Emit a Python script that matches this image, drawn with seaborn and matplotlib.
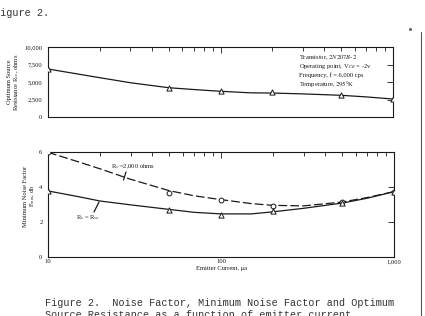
import matplotlib
matplotlib.use("Agg")
import matplotlib.pyplot as plt
import seaborn as sns
import pandas as pd
from matplotlib.ticker import FixedLocator, LogLocator, NullFormatter

# ---- data ----
current_pts = [10, 50, 100, 200, 500, 1000]
rso_pts = [6870, 4210, 3780, 3550, 3130, 2600]
rso_curve_x = [10, 20, 30, 50, 70, 100, 150, 200, 300, 500, 700, 1000]
rso_curve_y = [6870, 5630, 4920, 4210, 3950, 3700, 3480, 3450, 3330, 3130, 2900, 2600]

f2000_pts = [6.0, 3.64, 3.26, 2.91, 3.16, 3.74]
fso_pts = [3.78, 2.68, 2.38, 2.65, 3.07, 3.74]
curve_x = [10, 15, 20, 30, 50, 70, 100, 150, 200, 300, 500, 700, 1000]
f2000_curve = [6.0, 5.45, 5.05, 4.45, 3.8, 3.5, 3.28, 3.05, 2.95, 2.92, 3.14, 3.4, 3.74]
fso_curve = [3.78, 3.45, 3.2, 2.98, 2.72, 2.55, 2.46, 2.46, 2.58, 2.78, 3.08, 3.36, 3.74]

rso_yticks = [0, 2500, 5000, 7500, 10000]
rso_yticklabels = ["0", "2,500", "5,000", "7,500", "10,000"]
f_yticks = [0, 2, 4, 6]
x_ticklabels = ["10", "100", "1,000"]

sns.set_style("white")
plt.rcParams['font.family'] = ['Liberation Serif', 'DejaVu Serif']
plt.rcParams['mathtext.fontset'] = 'stix'
ink = "#1a1a1a"
fs = 4.7

fig = plt.figure(figsize=(4.25, 3.16), dpi=100)
W, H = 425, 316

def ax_rect(l, t, r, b):
    return [l / W, 1 - b / H, (r - l) / W, (b - t) / H]

ax1 = fig.add_axes(ax_rect(48, 47, 393, 117.3))
ax2 = fig.add_axes(ax_rect(48, 152.3, 394, 256.7))

df1c = pd.DataFrame({"x": rso_curve_x, "y": rso_curve_y})
df1p = pd.DataFrame({"x": current_pts, "y": rso_pts})
sns.lineplot(data=df1c, x="x", y="y", ax=ax1, color=ink, lw=0.9)
sns.scatterplot(data=df1p, x="x", y="y", ax=ax1, marker="^", s=14,
                facecolor="white", edgecolor=ink, linewidth=0.7, zorder=5)

df2 = pd.DataFrame({"x": curve_x, "a": f2000_curve, "b": fso_curve})
sns.lineplot(data=df2, x="x", y="a", ax=ax2, color=ink, lw=0.9)
ax2.lines[-1].set_dashes([7, 2.5])
sns.lineplot(data=df2, x="x", y="b", ax=ax2, color=ink, lw=0.9)
dfp = pd.DataFrame({"x": current_pts, "a": f2000_pts, "b": fso_pts})
sns.scatterplot(data=dfp, x="x", y="a", ax=ax2, marker="o", s=12,
                facecolor="white", edgecolor=ink, linewidth=0.7, zorder=5)
sns.scatterplot(data=dfp, x="x", y="b", ax=ax2, marker="^", s=14,
                facecolor="white", edgecolor=ink, linewidth=0.7, zorder=5)

for ax in (ax1, ax2):
    ax.set_xscale("log")
    ax.set_xlim(10, 1000)
    ax.set_xlabel("")
    ax.set_ylabel("")
    for s in ax.spines.values():
        s.set_color(ink)
        s.set_linewidth(0.8)
    ax.xaxis.set_major_locator(FixedLocator([10, 100, 1000]))
    ax.xaxis.set_minor_locator(LogLocator(base=10, subs=range(2, 10)))
    ax.xaxis.set_minor_formatter(NullFormatter())
    ax.tick_params(axis="both", which="both", direction="in", top=True, right=True,
                   colors=ink, labelsize=fs, width=0.6)
    ax.tick_params(which="major", length=4)
    ax.tick_params(which="minor", length=3)
    ax.tick_params(axis="y", pad=4)

ax1.set_ylim(0, 10000)
ax1.set_yticks(rso_yticks)
ax1.set_yticklabels(rso_yticklabels)
ax1.set_xticklabels([])
ax2.set_ylim(0, 6)
ax2.set_yticks(f_yticks)
ax2.set_xticklabels(x_ticklabels)
ax2.tick_params(axis="x", pad=2)

ax1.set_ylabel("Optimum Source\nResistance R$_{so}$, ohms", fontsize=fs, color=ink, linespacing=1.1)
ax1.yaxis.set_label_coords(-0.078, 0.5)
ax2.set_ylabel("Minimum Noise Factor\nF$_{min}$, db", fontsize=fs, color=ink, linespacing=1.1)
ax2.yaxis.set_label_coords(-0.032, 0.58)
ax2.set_xlabel("Emitter Current, \u03bca", fontsize=fs, color=ink, labelpad=1)

info = ["Transistor, $\\it{2N207B}$-$\\it{2}$",
        "Operating point, V$_{CE}$ = -2v",
        "Frequency, f = 6,000 cps",
        "Temperature, $\\it{295}$\u00b0K"]
for i, t in enumerate(info):
    ax1.text(299 / W, 1 - (57.7 + i * 8.6) / H, t, transform=fig.transFigure,
             fontsize=fs, color=ink, va="center", ha="left")

ax2.text(111 / W, 1 - 167 / H, "R$_s$ =2,000 ohms", transform=fig.transFigure,
         fontsize=fs, color=ink, va="center")
ax2.text(76 / W, 1 - 217.5 / H, "R$_s$ = R$_{so}$", transform=fig.transFigure,
         fontsize=fs, color=ink, va="center")
fig.add_artist(plt.Line2D([126 / W, 123.5 / W], [1 - 172 / H, 1 - 180 / H], color=ink, lw=0.9))
fig.add_artist(plt.Line2D([94 / W, 99 / W], [1 - 212 / H, 1 - 202 / H], color=ink, lw=0.9))

mono = ['Liberation Mono', 'DejaVu Sans Mono']
fig.text(-6.5 / W, 1 - 13.5 / H, "Figure 2.", family=mono, fontsize=7.3, color="#333", va="center")
fig.text(45 / W, 1 - 303.5 / H, "Figure 2.  Noise Factor, Minimum Noise Factor and Optimum",
         family=mono, fontsize=7.3, color="#333", va="center")
fig.text(45 / W, 1 - 315.5 / H, "Source Resistance as a function of emitter current.",
         family=mono, fontsize=7.3, color="#333", va="center")
fig.add_artist(plt.Line2D([421 / W, 421 / W], [1 - 32 / H, 0], color="#555", lw=0.8))
fig.add_artist(plt.Line2D([410 / W], [1 - 29 / H], marker="o", ms=1.2, color="#666", lw=0))

fig.savefig("out.png", dpi=100)
